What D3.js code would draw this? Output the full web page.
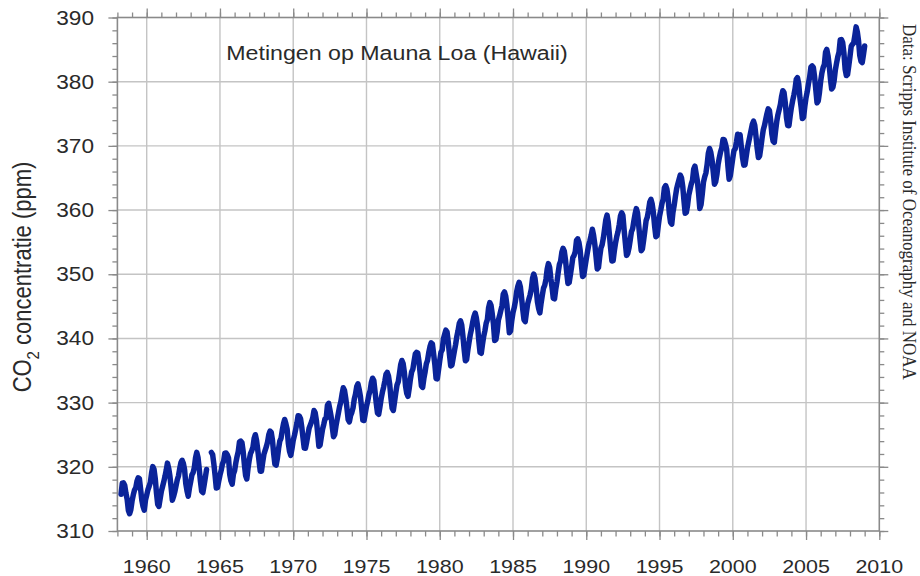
<!DOCTYPE html>
<html>
<head>
<meta charset="utf-8">
<script src="https://cdn.jsdelivr.net/npm/d3@7"></script>
<style>
  html, body { margin: 0; padding: 0; background: #fff; }
  svg { display: block; }
</style>
</head>
<body>
<script>
// ---- DATA (monthly mean CO2, ppm, Mauna Loa; null = no measurement) ----
const startYear = 1958;
const startMonth = 3; // March 1958
const ppm1950s = [
  315.71, 317.45, 317.50, 317.10, 315.86, 314.93, 313.20, 312.70, 313.33, 314.67,
  315.62, 316.38, 316.71, 317.72, 318.29, 318.15, 316.54, 314.80, 313.84, 313.26, 314.80, 315.58
];
const ppm1960s = [
  316.43, 316.97, 317.58, 319.02, 320.03, 319.59, 318.18, 315.91, 314.16, 313.83, 315.00, 316.19,
  316.93, 317.70, 318.54, 319.48, 320.58, 319.77, 318.57, 316.79, 314.80, 315.38, 316.10, 317.01,
  317.94, 318.56, 319.68, 320.63, 321.01, 320.55, 319.58, 317.40, 316.26, 315.42, 316.69, 317.69,
  318.74, 319.08, 319.86, 321.39, 322.25, 321.47, 319.74, 317.77, 316.21, 315.99, 317.12, 318.31,
  319.57, null,   null,   null,   322.23, 321.89, 320.44, 318.70, 316.70, 316.79, 317.79, 318.71,
  319.44, 320.44, 320.89, 322.13, 322.16, 321.87, 321.39, 318.80, 317.81, 317.30, 318.87, 319.42,
  320.62, 321.59, 322.39, 323.87, 324.01, 323.75, 322.39, 320.37, 318.64, 318.10, 319.79, 321.08,
  322.07, 322.50, 323.04, 324.42, 325.00, 324.09, 322.55, 320.92, 319.31, 319.31, 320.72, 321.96,
  322.57, 323.15, 323.89, 325.02, 325.57, 325.36, 324.14, 322.03, 320.41, 320.25, 321.31, 322.84,
  324.00, 324.42, 325.64, 326.66, 327.38, 326.70, 325.89, 323.67, 322.38, 321.78, 322.85, 324.11
];
const ppm1970s = [
  324.89, 325.82, 326.77, 327.97, 327.91, 327.50, 326.18, 324.53, 322.93, 322.90, 323.85, 324.96,
  326.01, 326.51, 327.01, 327.62, 328.76, 328.40, 327.20, 325.27, 323.20, 323.40, 324.63, 325.85,
  326.60, 327.47, 327.58, 329.56, 329.90, 328.92, 327.88, 326.16, 324.68, 325.04, 326.34, 327.39,
  328.37, 329.40, 330.14, 331.33, 332.31, 331.90, 330.70, 329.15, 327.35, 327.02, 327.99, 328.48,
  329.18, 330.55, 331.32, 332.48, 332.92, 332.08, 331.01, 329.23, 327.27, 327.21, 328.29, 329.41,
  330.23, 331.25, 331.87, 333.14, 333.80, 333.43, 331.73, 329.90, 328.40, 328.17, 329.32, 330.59,
  331.58, 332.39, 333.33, 334.41, 334.71, 334.17, 332.89, 330.77, 329.14, 328.78, 330.14, 331.52,
  332.75, 333.24, 334.53, 335.90, 336.57, 336.10, 334.76, 332.59, 331.42, 330.98, 332.24, 333.68,
  334.80, 335.22, 336.47, 337.59, 337.84, 337.72, 336.37, 334.51, 332.60, 332.38, 333.75, 334.78,
  336.05, 336.59, 337.79, 338.71, 339.30, 339.12, 337.56, 335.92, 333.75, 333.70, 335.12, 336.56
];
const ppm1980s = [
  337.84, 338.19, 339.91, 340.60, 341.29, 341.00, 339.39, 337.43, 335.72, 335.84, 336.93, 338.04,
  339.06, 340.30, 341.21, 342.33, 342.74, 342.08, 340.32, 338.26, 336.52, 336.68, 338.19, 339.44,
  340.57, 341.44, 342.53, 343.39, 343.96, 343.18, 341.88, 339.65, 337.81, 337.69, 339.09, 340.32,
  341.20, 342.35, 342.93, 344.77, 345.58, 345.14, 343.81, 342.21, 339.69, 339.82, 340.98, 342.82,
  343.52, 344.33, 345.11, 346.88, 347.25, 346.62, 345.22, 343.11, 340.90, 341.18, 342.80, 344.04,
  344.79, 345.82, 347.25, 348.17, 348.74, 348.07, 346.38, 344.51, 342.92, 342.62, 344.06, 345.38,
  346.11, 346.78, 347.68, 349.37, 350.03, 349.37, 347.76, 345.73, 344.68, 343.99, 345.48, 346.72,
  347.84, 348.29, 349.23, 350.80, 351.66, 351.07, 349.33, 347.92, 346.27, 346.18, 347.64, 348.78,
  350.25, 351.54, 352.05, 353.41, 354.04, 353.62, 352.22, 350.27, 348.55, 348.72, 349.91, 351.18,
  352.60, 352.92, 353.53, 355.26, 355.52, 354.97, 353.75, 351.52, 349.64, 349.83, 351.14, 352.37
];
const ppm1990s = [
  353.50, 354.55, 355.23, 356.04, 357.00, 356.07, 354.67, 352.76, 350.82, 351.04, 352.69, 354.07,
  354.59, 355.63, 357.03, 358.48, 359.22, 358.12, 356.06, 353.92, 352.05, 352.11, 353.64, 354.89,
  355.88, 356.63, 357.72, 359.07, 359.58, 359.17, 356.94, 354.92, 352.94, 353.23, 354.09, 355.33,
  356.63, 357.10, 358.32, 359.41, 360.23, 359.55, 357.53, 355.48, 353.67, 353.95, 355.30, 356.78,
  358.34, 358.89, 359.95, 361.25, 361.67, 360.94, 359.55, 357.49, 355.84, 356.00, 357.59, 359.05,
  359.98, 361.03, 361.66, 363.48, 363.82, 363.30, 361.94, 359.50, 358.11, 357.80, 359.61, 360.74,
  362.09, 363.29, 364.06, 364.76, 365.45, 365.01, 363.70, 361.54, 359.51, 359.65, 360.80, 362.38,
  363.23, 364.06, 364.61, 366.40, 366.84, 365.68, 364.52, 362.57, 360.24, 360.83, 362.49, 364.34,
  365.17, 365.78, 367.10, 368.87, 369.59, 368.99, 367.82, 365.95, 364.02, 364.40, 365.52, 367.13,
  368.18, 369.07, 369.68, 370.99, 370.96, 370.30, 369.45, 366.90, 364.81, 365.37, 366.72, 368.10
];
const ppm2000s = [
  369.29, 369.54, 370.60, 371.82, 371.58, 371.70, 369.86, 368.13, 367.00, 367.03, 368.37, 369.67,
  370.59, 371.51, 372.43, 373.37, 373.85, 373.21, 371.51, 369.61, 368.18, 368.45, 369.76, 371.24,
  372.53, 373.20, 374.12, 375.02, 375.76, 375.52, 374.01, 371.85, 370.75, 370.55, 372.25, 373.79,
  374.88, 375.64, 376.45, 377.73, 378.60, 378.28, 376.70, 374.38, 373.17, 373.15, 374.66, 375.99,
  377.00, 377.87, 378.88, 380.35, 380.62, 379.69, 377.47, 376.01, 374.25, 374.46, 376.16, 377.51,
  378.46, 379.73, 380.77, 382.29, 382.45, 382.21, 380.74, 378.74, 376.70, 377.00, 378.35, 380.11,
  381.38, 382.19, 382.67, 384.61, 385.03, 384.05, 382.46, 380.41, 378.85, 379.13, 380.15, 381.82,
  382.89, 383.90, 384.58, 386.50, 386.56, 386.10, 384.50, 381.99, 380.96, 381.12, 382.45, 383.95,
  385.52, 385.82, 386.03, 387.21, 388.54, 387.76, 386.36, 384.09, 383.18, 382.99, 384.19, 385.56
];
const xMajorTicks = [1960, 1965, 1970, 1975, 1980, 1985, 1990, 1995, 2000, 2005, 2010];
const yMajorTicks = [310, 320, 330, 340, 350, 360, 370, 380, 390];
const titleText = "Metingen op Mauna Loa (Hawaii)";
const yLabelMain = "CO";
const yLabelSub = "2";
const yLabelRest = " concentratie (ppm)";
const creditText = "Data: Scripps Institute of Oceanography and NOAA";

// ---- BUILD ----
(function () {
const monthly = [].concat(ppm1950s, ppm1960s, ppm1970s, ppm1980s, ppm1990s, ppm2000s);
const series = monthly.map((v, i) => {
  const k = (startMonth - 1) + i;
  const yr = startYear + Math.floor(k / 12);
  const m = (k % 12) + 1;
  return { t: yr + m / 12, v: v };
});

const W = 920, H = 576;
const pL = 117.4, pR = 879.3, pT = 17.5, pB = 531;
const stretch = 1.16;
const sans = "'Liberation Sans', Arial, Helvetica, sans-serif";
const serif = "'Liberation Serif', 'Times New Roman', serif";

const x = d3.scaleLinear().domain([1958, 2010]).range([pL, pR]);
const y = d3.scaleLinear().domain([310, 390]).range([pB, pT]);

const svg = d3.select("body").append("svg").attr("width", W).attr("height", H);

// grid
const grid = svg.append("g").attr("stroke", "#c4c4c4").attr("stroke-width", 1.4);
grid.selectAll("line.v").data(xMajorTicks.filter(d => d > 1958 && d < 2010)).join("line")
  .attr("class", "v")
  .attr("x1", d => x(d)).attr("x2", d => x(d)).attr("y1", pT).attr("y2", pB);
grid.selectAll("line.h").data(yMajorTicks.filter(d => d > 310 && d < 390)).join("line")
  .attr("class", "h")
  .attr("x1", pL).attr("x2", pR).attr("y1", d => y(d)).attr("y2", d => y(d));

// axes ticks
const tickColor = "#8a8a8a";
function styleAxis(g) {
  g.select(".domain").remove();
  g.selectAll(".tick line").attr("stroke", tickColor).attr("stroke-width", 1.3);
  g.selectAll(".tick text").remove();
}
const xMinor = d3.range(1958, 2011, 1);
const yMinor = d3.range(310, 391, 2);
svg.append("g").attr("transform", `translate(0,${pB})`)
  .call(d3.axisBottom(x).tickValues(xMinor).tickSize(5.5)).call(styleAxis);
svg.append("g").attr("transform", `translate(0,${pB})`)
  .call(d3.axisBottom(x).tickValues(xMajorTicks).tickSize(9)).call(styleAxis);
svg.append("g").attr("transform", `translate(0,${pT})`)
  .call(d3.axisTop(x).tickValues(xMinor).tickSize(5)).call(styleAxis);
svg.append("g").attr("transform", `translate(0,${pT})`)
  .call(d3.axisTop(x).tickValues(xMajorTicks).tickSize(9)).call(styleAxis);
svg.append("g").attr("transform", `translate(${pL},0)`)
  .call(d3.axisLeft(y).tickValues(yMinor).tickSize(5)).call(styleAxis);
svg.append("g").attr("transform", `translate(${pL},0)`)
  .call(d3.axisLeft(y).tickValues(yMajorTicks).tickSize(9)).call(styleAxis);
svg.append("g").attr("transform", `translate(${pR},0)`)
  .call(d3.axisRight(y).tickValues(yMinor).tickSize(5)).call(styleAxis);
svg.append("g").attr("transform", `translate(${pR},0)`)
  .call(d3.axisRight(y).tickValues(yMajorTicks).tickSize(9)).call(styleAxis);

// frame
svg.append("rect").attr("x", pL).attr("y", pT)
  .attr("width", pR - pL).attr("height", pB - pT)
  .attr("fill", "none").attr("stroke", "#8a8a8a").attr("stroke-width", 1.6);

// data line
const line = d3.line().defined(d => d.v != null).x(d => x(d.t)).y(d => y(d.v));
svg.append("path").datum(series)
  .attr("d", line)
  .attr("fill", "none")
  .attr("stroke", "#0a2399")
  .attr("stroke-width", 5.5)
  .attr("stroke-linejoin", "round")
  .attr("stroke-linecap", "round");

// tick labels
const textColor = "#2a2a2a";
svg.append("g").selectAll("text").data(yMajorTicks).join("text")
  .attr("transform", d => `translate(94,${y(d)}) scale(${stretch},1)`)
  .attr("text-anchor", "end").attr("dy", "0.36em")
  .attr("font-family", sans).attr("font-size", 19.5).attr("fill", textColor)
  .text(d => d);
svg.append("g").selectAll("text").data(xMajorTicks).join("text")
  .attr("transform", d => `translate(${x(d)},572.5) scale(${stretch},1)`)
  .attr("text-anchor", "middle")
  .attr("font-family", sans).attr("font-size", 18.5).attr("fill", textColor)
  .text(d => d);

// title
svg.append("text")
  .attr("transform", `translate(397,59.5) scale(${stretch},1)`)
  .attr("text-anchor", "middle")
  .attr("font-family", sans).attr("font-size", 20).attr("fill", textColor)
  .text(titleText);

// y label
const yl = svg.append("text")
  .attr("transform", `translate(31,277) scale(${stretch},1) rotate(-90)`)
  .attr("text-anchor", "middle")
  .attr("font-family", sans).attr("font-size", 22).attr("fill", textColor);
yl.append("tspan").text(yLabelMain);
yl.append("tspan").attr("font-size", 15).attr("dy", 7).text(yLabelSub);
yl.append("tspan").attr("dy", -7).text(yLabelRest);

// credit
svg.append("text")
  .attr("transform", `translate(903,24) scale(${stretch},1) rotate(90)`)
  .attr("text-anchor", "start")
  .attr("font-family", serif).attr("font-size", 17).attr("fill", textColor)
  .text(creditText);
})();
</script>
</body>
</html>
